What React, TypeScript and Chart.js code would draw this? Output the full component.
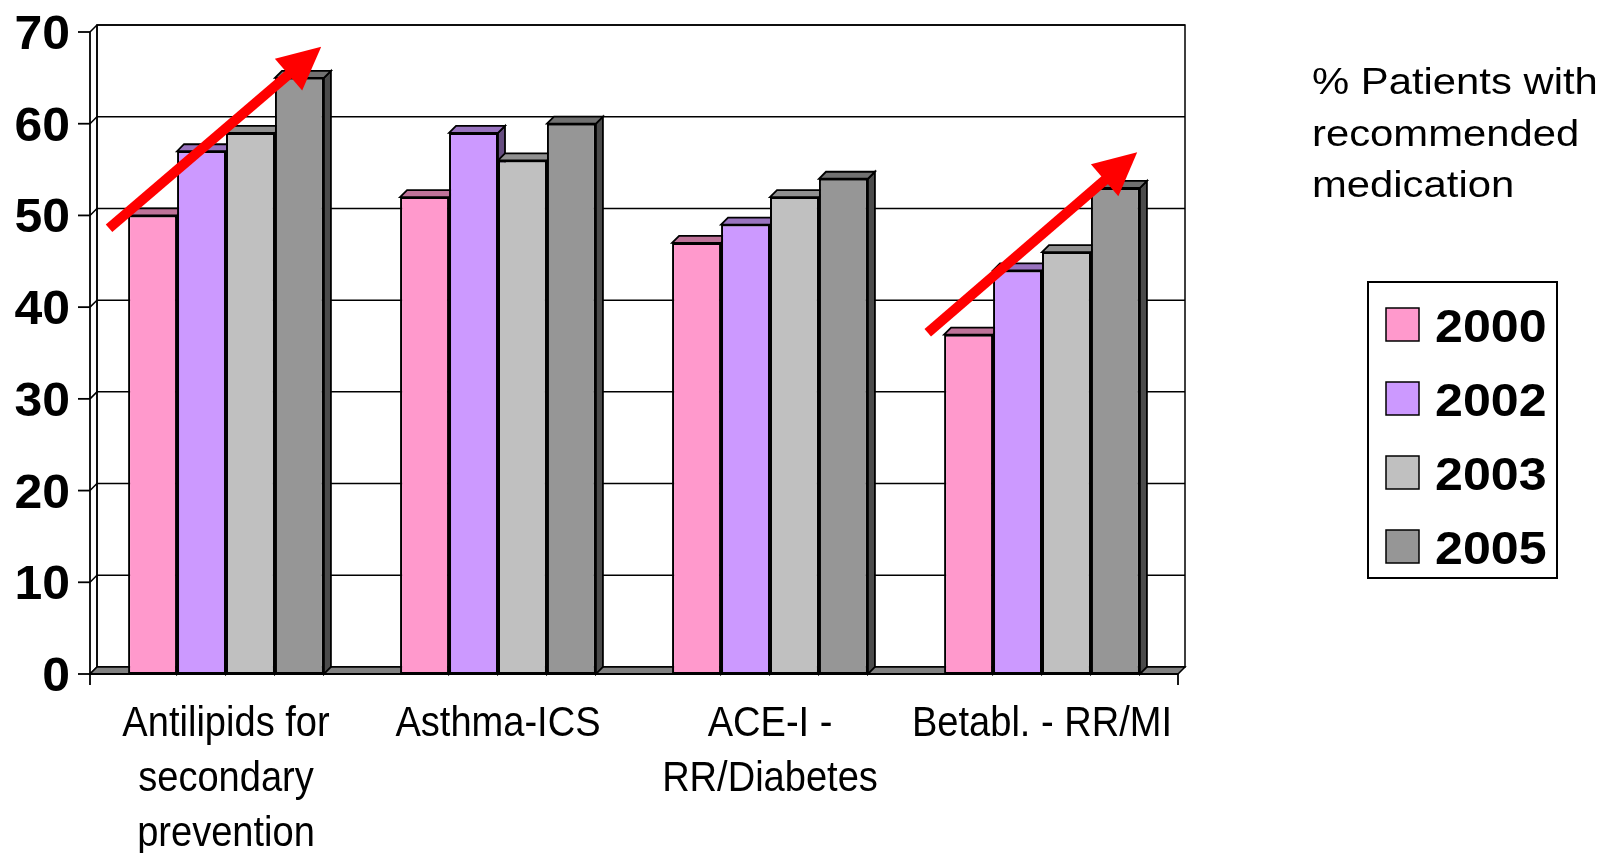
import React, { useEffect, useRef } from 'react';
import { Chart, registerables } from 'chart.js';

Chart.register(...registerables);

// ---- data ----
const categories: (string | string[])[] = [
  ['Antilipids for', 'secondary', 'prevention'],
  'Asthma-ICS',
  ['ACE-I -', 'RR/Diabetes'],
  'Betabl. - RR/MI',
];
const years = ['2000', '2002', '2003', '2005'];
const values2000 = [50, 52, 47, 37];
const values2002 = [57, 59, 49, 44];
const values2003 = [59, 56, 52, 46];
const values2005 = [65, 60, 54, 53];
const seriesColors = ['#ff99cc', '#cc99ff', '#c0c0c0', '#969696'];
const yMin = 0;
const yMax = 70;
const yStep = 10;
const titleLines = ['% Patients with', 'recommended', 'medication'];

// trend arrows in (category position, value) units
const arrowFrom = [
  [-0.43, 48.6],
  [2.58, 37.2],
];
const arrowTo = [
  [0.35, 68.4],
  [3.35, 56.9],
];

const FONT = '"Liberation Sans", Arial, Helvetica, sans-serif';
const DEPTH = 7;

function shade(hex: string, f: number): string {
  const n = parseInt(hex.slice(1), 16);
  const r = Math.round(((n >> 16) & 255) * f);
  const g = Math.round(((n >> 8) & 255) * f);
  const b = Math.round((n & 255) * f);
  return `rgb(${r},${g},${b})`;
}

function poly(ctx: CanvasRenderingContext2D, pts: number[][], fill: string | null, stroke: string | null, lw = 1.5) {
  ctx.beginPath();
  ctx.moveTo(pts[0][0], pts[0][1]);
  for (let i = 1; i < pts.length; i++) ctx.lineTo(pts[i][0], pts[i][1]);
  ctx.closePath();
  if (fill) {
    ctx.fillStyle = fill;
    ctx.fill();
  }
  if (stroke) {
    ctx.strokeStyle = stroke;
    ctx.lineWidth = lw;
    ctx.lineJoin = 'miter';
    ctx.stroke();
  }
}

function line(ctx: CanvasRenderingContext2D, x0: number, y0: number, x1: number, y1: number, lw = 1.5, color = '#000') {
  ctx.beginPath();
  ctx.moveTo(x0, y0);
  ctx.lineTo(x1, y1);
  ctx.strokeStyle = color;
  ctx.lineWidth = lw;
  ctx.stroke();
}

function stretchedText(ctx: CanvasRenderingContext2D, text: string, x: number, y: number, sx: number, align: CanvasTextAlign) {
  ctx.save();
  ctx.translate(x, y);
  ctx.scale(sx, 1);
  ctx.textAlign = align;
  ctx.textBaseline = 'alphabetic';
  ctx.fillText(text, 0, 0);
  ctx.restore();
}

// walls, floor, back gridlines, 3D bar faces, axis text, captions
const wallsPlugin = {
  id: 'walls3d',
  beforeDraw(chart: any) {
    const { ctx, chartArea: a, scales } = chart;
    const ys = scales.y;
    ctx.save();
    ctx.fillStyle = '#ffffff';
    ctx.fillRect(0, 0, chart.width, chart.height);

    // back wall
    poly(ctx, [
      [a.left + DEPTH, a.top - DEPTH],
      [a.right + DEPTH, a.top - DEPTH],
      [a.right + DEPTH, a.bottom - DEPTH],
      [a.left + DEPTH, a.bottom - DEPTH],
    ], '#ffffff', '#000', 1.5);

    // gridlines on the side and back wall, tick marks and value labels
    ctx.font = `bold 48px ${FONT}`;
    ys.ticks.forEach((t: any) => {
      const py = ys.getPixelForValue(t.value);
      ctx.beginPath();
      ctx.moveTo(a.left, py);
      ctx.lineTo(a.left + DEPTH, py - DEPTH);
      ctx.lineTo(a.right + DEPTH, py - DEPTH);
      ctx.strokeStyle = '#000';
      ctx.lineWidth = 1.5;
      ctx.stroke();
      line(ctx, a.left - 12, py, a.left, py, 1.8);
      ctx.fillStyle = '#000';
      stretchedText(ctx, String(t.value), a.left - 20, py + 17, 1.04, 'right');
    });
    line(ctx, a.left + DEPTH, a.top - DEPTH, a.left + DEPTH, a.bottom - DEPTH, 1.5);

    // floor
    poly(ctx, [
      [a.left, a.bottom],
      [a.right, a.bottom],
      [a.right + DEPTH, a.bottom - DEPTH],
      [a.left + DEPTH, a.bottom - DEPTH],
    ], '#808080', '#000', 1.5);

    // front axis lines
    line(ctx, a.left, a.top, a.left, a.bottom + 11, 1.8);
    line(ctx, a.right, a.bottom, a.right, a.bottom + 11, 1.8);
    ctx.restore();
  },
  beforeDatasetsDraw(chart: any) {
    const { ctx } = chart;
    ctx.save();
    const n = chart.data.labels.length;
    for (let i = 0; i < n; i++) {
      chart.data.datasets.forEach((ds: any, d: number) => {
        const el = chart.getDatasetMeta(d).data[i];
        const { x, y, base, width } = el.getProps(['x', 'y', 'base', 'width'], true);
        const L = x - width / 2;
        const R = x + width / 2;
        const col = seriesColors[d];
        // right side face
        poly(ctx, [
          [R, y],
          [R + DEPTH, y - DEPTH],
          [R + DEPTH, base - DEPTH],
          [R, base],
        ], shade(col, 0.5), '#000', 1.8);
        // top face
        poly(ctx, [
          [L, y],
          [R, y],
          [R + DEPTH, y - DEPTH],
          [L + DEPTH, y - DEPTH],
        ], shade(col, 0.75), '#000', 1.8);
      });
    }
    ctx.restore();
  },
  afterDatasetsDraw(chart: any) {
    const { ctx, chartArea: a } = chart;
    ctx.save();
    line(ctx, a.left, a.bottom, a.right, a.bottom, 2);
    ctx.restore();
  },
  afterDraw(chart: any) {
    const { ctx, chartArea: a, scales } = chart;
    const xs = scales.x;
    const ys = scales.y;
    ctx.save();

    // category labels
    ctx.fillStyle = '#000';
    ctx.font = `43px ${FONT}`;
    chart.data.labels.forEach((lab: any, i: number) => {
      const lines = Array.isArray(lab) ? lab : [lab];
      const cx = xs.getPixelForValue(i);
      lines.forEach((s: string, k: number) => {
        stretchedText(ctx, s, cx, a.bottom + 62 + k * 55, 0.885, 'center');
      });
    });

    // trend arrows
    arrowFrom.forEach((f, k) => {
      const t = arrowTo[k];
      const x0 = xs.getPixelForValue(f[0]);
      const y0 = ys.getPixelForValue(f[1]);
      const x1 = xs.getPixelForValue(t[0]);
      const y1 = ys.getPixelForValue(t[1]);
      const len = Math.hypot(x1 - x0, y1 - y0);
      const ux = (x1 - x0) / len;
      const uy = (y1 - y0) / len;
      const nx = -uy;
      const ny = ux;
      const head = 43;
      const half = 21;
      ctx.beginPath();
      ctx.moveTo(x0, y0);
      ctx.lineTo(x1 - ux * (head - 4), y1 - uy * (head - 4));
      ctx.strokeStyle = '#ff0000';
      ctx.lineWidth = 10;
      ctx.lineCap = 'butt';
      ctx.stroke();
      const bx = x1 - ux * head;
      const by = y1 - uy * head;
      poly(ctx, [
        [x1, y1],
        [bx + nx * half, by + ny * half],
        [bx - nx * half, by - ny * half],
      ], '#ff0000', null);
    });

    // caption
    ctx.fillStyle = '#000';
    ctx.font = `37px ${FONT}`;
    titleLines.forEach((s, k) => {
      stretchedText(ctx, s, 1312, 94 + k * 51.5, 1.13, 'left');
    });

    // legend
    const lx = 1368;
    const ly = 282;
    ctx.fillStyle = '#fff';
    ctx.fillRect(lx, ly, 189, 296);
    ctx.strokeStyle = '#000';
    ctx.lineWidth = 2;
    ctx.strokeRect(lx, ly, 189, 296);
    ctx.font = `bold 46px ${FONT}`;
    chart.data.datasets.forEach((ds: any, d: number) => {
      const top = 308 + d * 74;
      ctx.fillStyle = ds.backgroundColor;
      ctx.fillRect(1386, top, 33, 33);
      ctx.strokeStyle = '#000';
      ctx.lineWidth = 1.5;
      ctx.strokeRect(1386, top, 33, 33);
      ctx.fillStyle = '#000';
      stretchedText(ctx, ds.label, 1435, top + 34, 1.09, 'left');
    });

    ctx.restore();
  },
};

export default function App() {
  const canvasRef = useRef<HTMLCanvasElement | null>(null);

  useEffect(() => {
    document.body.style.margin = '0';
    const canvas = canvasRef.current;
    if (!canvas) return;
    const seriesValues = [values2000, values2002, values2003, values2005];
    const chart = new Chart(canvas, {
      type: 'bar',
      data: {
        labels: categories,
        datasets: years.map((yr, i) => ({
          label: yr,
          data: seriesValues[i],
          backgroundColor: seriesColors[i],
          borderColor: '#000',
          borderWidth: 2,
          borderSkipped: false,
          categoryPercentage: 0.72,
          barPercentage: 1,
        })),
      },
      options: {
        responsive: false,
        maintainAspectRatio: false,
        devicePixelRatio: 1,
        animation: false,
        events: [],
        layout: { padding: { top: 32, right: 428, left: 0, bottom: 0 } },
        plugins: {
          legend: { display: false },
          tooltip: { enabled: false },
          title: { display: false },
        },
        scales: {
          x: {
            ticks: { display: false },
            grid: { display: false },
            border: { display: false },
            afterFit(s: any) {
              s.height = 179;
            },
          },
          y: {
            min: yMin,
            max: yMax,
            ticks: { stepSize: yStep, display: false },
            grid: { display: false },
            border: { display: false },
            afterFit(s: any) {
              s.width = 90;
            },
          },
        },
      } as any,
      plugins: [wallsPlugin],
    });
    return () => chart.destroy();
  }, []);

  return (
    <div style={{ width: 1606, height: 853, overflow: 'hidden', background: '#fff' }}>
      <canvas ref={canvasRef} width={1606} height={853} style={{ display: 'block' }} />
    </div>
  );
}
